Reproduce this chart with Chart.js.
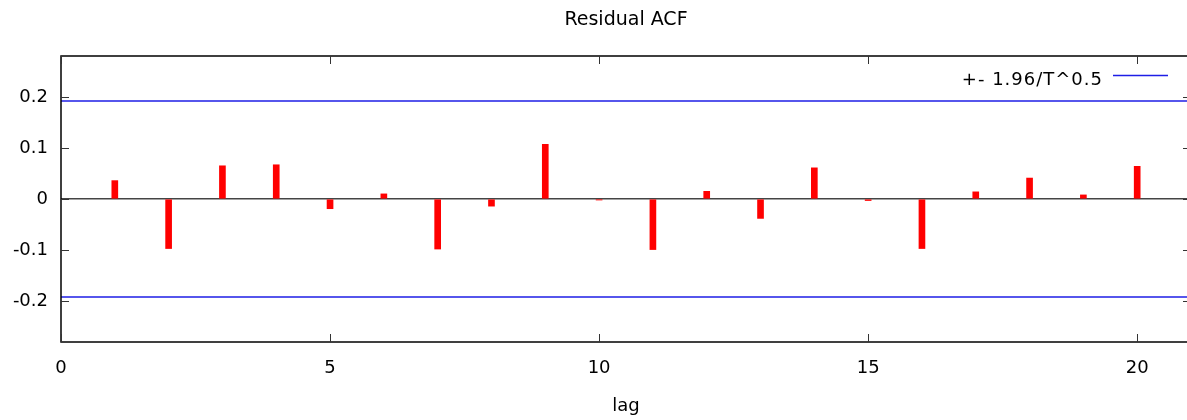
<!DOCTYPE html>
<html>
<head>
<meta charset="utf-8">
<script src="https://cdn.jsdelivr.net/npm/chart.js@4"></script>
<style>
  html, body { margin: 0; padding: 0; background: #fff; overflow: hidden; }
  #wrap { width: 1191px; height: 420px; }
</style>
</head>
<body>
<div id="wrap"><canvas id="chartAcf"></canvas></div>
<script>
//* DATOS
const lags = [1, 2, 3, 4, 5, 6, 7, 8, 9, 10, 11, 12, 13, 14, 15, 16, 17, 18, 19, 20];
const acfValues = [0.036, -0.097, 0.065, 0.067, -0.019, 0.010, -0.098, -0.014, 0.107, -0.002,
                   -0.099, 0.015, -0.038, 0.061, -0.003, -0.097, 0.014, 0.041, 0.008, 0.064];
const confLimit = 0.192;   // +- 1.96/T^0.5
const xRange = [0, 21];
const yRange = [-0.28, 0.28];
const xTicks = [0, 5, 10, 15, 20];
const yTicks = [-0.2, -0.1, 0, 0.1, 0.2];

const FONT = 'DejaVu Sans';
const BLUE = 'rgb(30,30,230)';

const ctxAcf = document.getElementById('chartAcf');

// borde completo + ticks hacia dentro (estilo gnuplot)
const boxPlugin = {
    id: 'boxPlugin',
    afterDatasetsDraw(chart) {
        const { ctx, chartArea: a, scales: { x, y } } = chart;
        ctx.save();
        ctx.strokeStyle = '#000';
        ctx.lineWidth = 1.5;
        ctx.strokeRect(a.left, a.top, a.right - a.left, a.bottom - a.top);
        ctx.lineWidth = 1;
        ctx.strokeStyle = '#333';
        ctx.beginPath();
        xTicks.forEach(v => {
            const px = Math.round(x.getPixelForValue(v)) + 0.5;
            ctx.moveTo(px, a.bottom); ctx.lineTo(px, a.bottom - 8);
            ctx.moveTo(px, a.top); ctx.lineTo(px, a.top + 8);
        });
        yTicks.forEach(v => {
            const py = Math.round(y.getPixelForValue(v)) + 0.5;
            ctx.moveTo(a.left, py); ctx.lineTo(a.left + 8, py);
            ctx.moveTo(a.right, py); ctx.lineTo(a.right - 8, py);
        });
        ctx.stroke();

        // leyenda
        ctx.fillStyle = '#000';
        ctx.font = '18px "' + FONT + '"';
        ctx.letterSpacing = '1px';
        ctx.textAlign = 'right';
        ctx.textBaseline = 'middle';
        ctx.fillText('+- 1.96/T^0.5', a.right - 88, a.top + 24);
        ctx.strokeStyle = BLUE;
        ctx.lineWidth = 1.5;
        ctx.beginPath();
        ctx.moveTo(a.right - 78, a.top + 19.5);
        ctx.lineTo(a.right - 23, a.top + 19.5);
        ctx.stroke();
        ctx.restore();
    }
};

let dataAcf = {
    datasets: [{
        type: 'bar',
        label: 'ACF',
        data: lags.map((l, i) => ({ x: l, y: acfValues[i] })),
        backgroundColor: '#ff0000',
        barThickness: 6,
        order: 1
    }, {
        type: 'line',
        label: '+- 1.96/T^0.5',
        data: xRange.map(v => ({ x: v, y: confLimit })),
        borderColor: BLUE,
        borderWidth: 1.5,
        pointRadius: 0,
        order: 2
    }, {
        type: 'line',
        label: 'lower',
        data: xRange.map(v => ({ x: v, y: -confLimit })),
        borderColor: BLUE,
        borderWidth: 1.5,
        pointRadius: 0,
        order: 2
    }]
};

let Options = {
    responsive: true,
    maintainAspectRatio: false,
    animation: false,
    layout: { padding: 0 },
    plugins: {
        legend: { display: false },
        tooltip: { enabled: false },
        title: {
            display: true,
            fullSize: false,
            text: 'Residual ACF',
            color: '#000',
            font: { family: FONT, size: 19, weight: 'normal' },
            padding: { top: 9, bottom: 24.2 }
        }
    },
    scales: {
        x: {
            type: 'linear',
            min: xRange[0],
            max: xRange[1],
            offset: false,
            afterBuildTicks: s => { s.ticks = xTicks.map(v => ({ value: v })); },
            afterFit: s => { s.height = 78; },
            grid: { display: false, drawTicks: false },
            border: { display: false },
            ticks: {
                color: '#000',
                padding: 16,
                maxRotation: 0,
                font: { family: FONT, size: 18 }
            },
            title: {
                display: true,
                text: 'lag',
                color: '#000',
                font: { family: FONT, size: 18 },
                padding: { top: 0, bottom: 3 }
            }
        },
        y: {
            min: yRange[0],
            max: yRange[1],
            afterBuildTicks: s => { s.ticks = yTicks.map(v => ({ value: v })); },
            afterFit: s => { s.width = 61; },
            grid: {
                drawTicks: false,
                color: c => (c.tick && c.tick.value === 0) ? '#444' : 'rgba(0,0,0,0)',
                lineWidth: 1.5
            },
            border: { display: false },
            ticks: {
                color: '#000',
                padding: 13,
                font: { family: FONT, size: 18 },
                callback: v => String(Math.round(v * 10) / 10)
            }
        }
    }
};

new Chart(ctxAcf, {
    type: 'bar',
    data: dataAcf,
    options: Options,
    plugins: [boxPlugin]
});
</script>
</body>
</html>
